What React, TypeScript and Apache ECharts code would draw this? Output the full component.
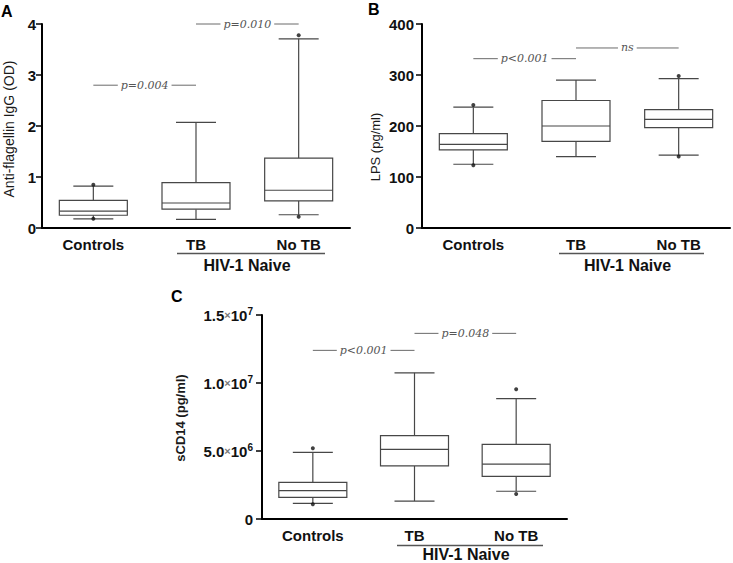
import React, { useEffect, useRef } from 'react';
import * as echarts from 'echarts';

const CATEGORIES = ['Controls', 'TB', 'No TB'];

// Box data: [min whisker, Q1, median, Q3, max whisker]
const A_BOXES = [
  [0.18, 0.25, 0.33, 0.54, 0.82],
  [0.17, 0.37, 0.49, 0.89, 2.07],
  [0.26, 0.53, 0.74, 1.37, 3.71],
];
const A_DOTS = [[0, 0.85], [0, 0.18], [2, 3.78], [2, 0.22]];
const A_PAIRS = [[0, 1, 2.8], [1, 2, 4.0]];
const A_PTEXT = ['p=0.004', 'p=0.010'];

const B_BOXES = [
  [125, 153, 164, 185, 237],
  [140, 170, 200, 250, 290],
  [143, 197, 213, 232, 293],
];
const B_DOTS = [[0, 241], [0, 123], [2, 298], [2, 140]];
const B_PAIRS = [[0, 1, 332], [1, 2, 353]];
const B_PTEXT = ['p<0.001', 'ns'];

const C_BOXES = [
  [1150000, 1590000, 2080000, 2700000, 4900000],
  [1320000, 3900000, 5120000, 6130000, 10750000],
  [2040000, 3140000, 4040000, 5490000, 8850000],
];
const C_DOTS = [[0, 5200000], [0, 1080000], [2, 9540000], [2, 1840000]];
const C_PAIRS = [[0, 1, 12400000], [1, 2, 13650000]];
const C_PTEXT = ['p<0.001', 'p=0.048'];
const C_TICK_MANT = ['0', '5.0', '1.0', '1.5'];
const C_TICK_EXP = ['', '6', '7', '7'];

const FONT = '"Liberation Sans", Arial, Helvetica, sans-serif';
const BOX_W = 68;
const CAP_W = 40;
const BOX_COLOR = '#474747';

function boxSeries(g: number, boxes: number[][]) {
  return {
    type: 'custom',
    xAxisIndex: g,
    yAxisIndex: g,
    data: boxes.map((b, i) => [i, ...b]),
    encode: { x: 0, y: [1, 2, 3, 4, 5] },
    renderItem: (params: any, api: any) => {
      const i = api.value(0);
      const [lo, q1, med, q3, hi] = [1, 2, 3, 4, 5].map((d) => api.coord([i, api.value(d)])[1]);
      const cx = api.coord([i, 0])[0];
      const st = { stroke: BOX_COLOR, lineWidth: 1.2, fill: null };
      return {
        type: 'group',
        children: [
          { type: 'line', shape: { x1: cx, y1: hi, x2: cx, y2: q3 }, style: st },
          { type: 'line', shape: { x1: cx, y1: q1, x2: cx, y2: lo }, style: st },
          { type: 'line', shape: { x1: cx - CAP_W / 2, y1: hi, x2: cx + CAP_W / 2, y2: hi }, style: st },
          { type: 'line', shape: { x1: cx - CAP_W / 2, y1: lo, x2: cx + CAP_W / 2, y2: lo }, style: st },
          {
            type: 'rect',
            shape: { x: cx - BOX_W / 2, y: q3, width: BOX_W, height: q1 - q3 },
            style: { stroke: BOX_COLOR, lineWidth: 1.2, fill: '#fff' },
          },
          { type: 'line', shape: { x1: cx - BOX_W / 2, y1: med, x2: cx + BOX_W / 2, y2: med }, style: st },
        ],
      };
    },
  };
}

function pSeries(g: number, pairs: number[][], texts: string[]) {
  return {
    type: 'custom',
    xAxisIndex: g,
    yAxisIndex: g,
    z: 5,
    data: pairs,
    encode: { x: [0, 1], y: 2 },
    renderItem: (params: any, api: any) => {
      const a = api.coord([api.value(0), api.value(2)]);
      const b = api.coord([api.value(1), api.value(2)]);
      return {
        type: 'group',
        children: [
          { type: 'line', shape: { x1: a[0], y1: a[1], x2: b[0], y2: b[1] }, style: { stroke: '#6a6a6a', lineWidth: 1 } },
          {
            type: 'text',
            x: (a[0] + b[0]) / 2,
            y: a[1],
            style: {
              text: texts[params.dataIndex],
              align: 'center',
              verticalAlign: 'middle',
              fontFamily: '"DejaVu Serif", serif',
              fontStyle: 'italic',
              fontSize: 11,
              fill: '#555',
              backgroundColor: '#fff',
              padding: [0, 3],
            },
          },
        ],
      };
    },
  };
}

function dotSeries(g: number, dots: number[][]) {
  return {
    type: 'scatter',
    xAxisIndex: g,
    yAxisIndex: g,
    z: 6,
    data: dots,
    symbol: 'circle',
    symbolSize: 4,
    itemStyle: { color: '#111' },
  };
}

function xAxis(g: number) {
  return {
    type: 'category',
    gridIndex: g,
    data: CATEGORIES,
    boundaryGap: true,
    axisLine: { lineStyle: { color: '#000', width: 2 } },
    axisTick: { alignWithLabel: true, length: 7, lineStyle: { color: '#000', width: 1.5 } },
    axisLabel: { fontFamily: FONT, fontWeight: 'bold', fontSize: 15, color: '#111', margin: 9 },
    splitLine: { show: false },
  };
}

function yAxis(g: number, max: number, interval: number, margin: number, extra: any = {}) {
  return {
    type: 'value',
    gridIndex: g,
    min: 0,
    max,
    interval,
    axisLine: { show: true, lineStyle: { color: '#000', width: 2 } },
    axisTick: { show: true, length: 6, lineStyle: { color: '#000', width: 1.5 } },
    axisLabel: { fontFamily: FONT, fontWeight: 'bold', fontSize: 15, color: '#111', margin, ...extra },
    splitLine: { show: false },
  };
}

function groupLabel(x1: number, x2: number, yLine: number, yText: number) {
  return [
    { type: 'line', shape: { x1, y1: yLine, x2, y2: yLine }, style: { stroke: '#555', lineWidth: 1.3 } },
    {
      type: 'text',
      x: (x1 + x2) / 2 - 4,
      y: yText,
      style: { text: 'HIV-1 Naive', align: 'center', verticalAlign: 'middle', fontFamily: FONT, fontWeight: 'bold', fontSize: 16, fill: '#111' },
    },
  ];
}

function letter(t: string, x: number, y: number) {
  return {
    type: 'text',
    x,
    y,
    style: { text: t, align: 'left', verticalAlign: 'middle', fontFamily: FONT, fontWeight: 'bold', fontSize: 16, fill: '#000' },
  };
}

function yTitle(t: string, x: number, y: number, bold: boolean, size: number) {
  return {
    type: 'text',
    x,
    y,
    rotation: Math.PI / 2,
    style: {
      text: t,
      align: 'center',
      verticalAlign: 'middle',
      fontFamily: FONT,
      fontWeight: bold ? 'bold' : 'normal',
      fontSize: size,
      fill: '#1a1a1a',
    },
  };
}

export default function App() {
  const ref = useRef<HTMLDivElement>(null);
  useEffect(() => {
    if (!ref.current) return;
    const chart = echarts.init(ref.current, null, { renderer: 'svg' });
    chart.setOption({
      animation: false,
      backgroundColor: '#fff',
      grid: [
        { left: 42, top: 24, width: 308, height: 204 },
        { left: 422, top: 24, width: 308, height: 204 },
        { left: 262, top: 315, width: 305, height: 204 },
      ],
      xAxis: [xAxis(0), xAxis(1), xAxis(2)],
      yAxis: [
        yAxis(0, 4, 1, 6),
        yAxis(1, 400, 100, 8),
        yAxis(2, 15000000, 5000000, 9, {
          formatter: (v: number, idx: number) =>
            idx === 0 ? '{b|0}' : `{b|${C_TICK_MANT[idx]}}{x|×}{b|10}{s|${C_TICK_EXP[idx]}}`,
          rich: {
            b: { fontFamily: FONT, fontWeight: 'bold', fontSize: 15, color: '#111', lineHeight: 17 },
            x: { fontFamily: FONT, fontSize: 11, color: '#777', lineHeight: 17 },
            s: { fontFamily: FONT, fontWeight: 'bold', fontSize: 10, color: '#111', lineHeight: 10, verticalAlign: 'top' },
          },
        }),
      ],
      series: [
        boxSeries(0, A_BOXES),
        pSeries(0, A_PAIRS, A_PTEXT),
        dotSeries(0, A_DOTS),
        boxSeries(1, B_BOXES),
        pSeries(1, B_PAIRS, B_PTEXT),
        dotSeries(1, B_DOTS),
        boxSeries(2, C_BOXES),
        pSeries(2, C_PAIRS, C_PTEXT),
        dotSeries(2, C_DOTS),
      ],
      graphic: [
        letter('A', 1, 11),
        letter('B', 368, 9),
        letter('C', 171, 296),
        yTitle('Anti-flagellin IgG (OD)', 9, 129, false, 14),
        yTitle('LPS (pg/ml)', 375, 147, false, 13),
        yTitle('sCD14 (pg/ml)', 180, 418, true, 13),
        ...groupLabel(177, 325, 253.5, 265),
        ...groupLabel(559, 704, 253.5, 265),
        ...groupLabel(397, 543, 545.5, 554),
      ],
    });
    return () => chart.dispose();
  }, []);
  return <div ref={ref} style={{ position: 'absolute', left: 0, top: 0, width: 733, height: 563 }} />;
}
